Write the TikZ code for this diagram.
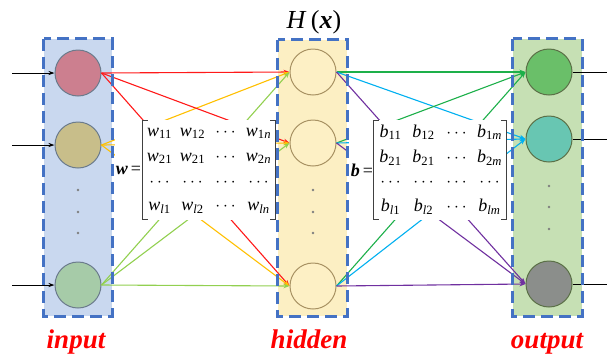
\documentclass[tikz,border=0pt]{standalone}
\usepackage{fontspec}
\setmainfont{Liberation Serif}
\usetikzlibrary{arrows.meta,matrix}

\definecolor{boxblue}{HTML}{4472C4}
\definecolor{inFill}{HTML}{C9D8EF}
\definecolor{hidFill}{HTML}{FCEFC3}
\definecolor{outFill}{HTML}{C6E0B4}
\definecolor{inA}{HTML}{CC7F8F}
\definecolor{inB}{HTML}{C8BE8A}
\definecolor{inC}{HTML}{A6CBA8}
\definecolor{inEdge}{HTML}{6B7B8C}
\definecolor{hidCirc}{HTML}{FDF0C5}
\definecolor{hidEdge}{HTML}{A89263}
\definecolor{outA}{HTML}{6ABF69}
\definecolor{outB}{HTML}{68C6B2}
\definecolor{outC}{HTML}{8B8E8B}
\definecolor{outEdge}{HTML}{5B7047}
\definecolor{lnRed}{HTML}{FF1A1A}
\definecolor{lnOrange}{HTML}{FFC000}
\definecolor{lnLime}{HTML}{92D050}
\definecolor{lnGreen}{HTML}{1DB04A}
\definecolor{lnBlue}{HTML}{00B0F0}
\definecolor{lnPurple}{HTML}{7030A0}
\definecolor{dotgray}{HTML}{7F7F7F}

\newcommand\mxent[2]{\textit{#1}\textsubscript{#2}}

\tikzset{
  layerbox/.style={line width=3pt, draw=boxblue, dash pattern=on 12pt off 6pt},
  neuron/.style={circle, minimum size=46pt, inner sep=0pt, line width=1pt},
  link/.style={line width=1.1pt, -{Stealth[length=6pt,width=4.5pt]}},
  feed/.style={line width=1pt, -{Stealth[length=6pt,width=4pt]}},
  dotmark/.style={circle, fill=dotgray, inner sep=0pt, minimum size=2.8pt},
  tag/.style={text=red, font=\fontsize{27}{29}\selectfont\bfseries\itshape, anchor=base},
  cell/.style={minimum width=33pt, minimum height=24pt, inner sep=0pt,
               font=\fontsize{18}{20}\selectfont},
  bracket/.style={line width=0.8pt, draw=black!75},
  cover/.style={fill=white, minimum width=27pt, minimum height=96pt, inner sep=0pt,
                font=\fontsize{18}{20}\selectfont}
}

\begin{document}
\begin{tikzpicture}[x=1pt,y=-1pt]
\useasboundingbox (0,0) rectangle (607,354);
\fill[white] (0,0) rectangle (607,354);

% layer backgrounds
\node[fill=inFill, minimum width=68pt, minimum height=277pt, inner sep=0pt] (inbox) at (78,177.5) {};
\node[fill=hidFill, minimum width=69pt, minimum height=276pt, inner sep=0pt] (hidbox) at (312.5,178) {};
\node[fill=outFill, minimum width=69pt, minimum height=277pt, inner sep=0pt] (outbox) at (547.5,177.5) {};

% neurons
\node[neuron, fill=inA, draw=inEdge] (i1) at (78,73) {};
\node[neuron, fill=inB, draw=inEdge] (i2) at (78,145) {};
\node[neuron, fill=inC, draw=inEdge] (i3) at (78,285) {};
\node[neuron, fill=hidCirc, draw=hidEdge] (h1) at (313,72) {};
\node[neuron, fill=hidCirc, draw=hidEdge] (h2) at (313,143) {};
\node[neuron, fill=hidCirc, draw=hidEdge] (h3) at (313,286) {};
\node[neuron, fill=outA, draw=outEdge] (o1) at (549,72) {};
\node[neuron, fill=outB, draw=outEdge] (o2) at (549,139) {};
\node[neuron, fill=outC, draw=outEdge] (o3) at (549,284) {};

% input -> hidden, coloured by source
\foreach \h in {h1,h2,h3} {
  \draw[link, lnRed] (i1.east) -- (\h.west);
  \draw[link, lnOrange] (i2.east) -- (\h.west);
  \draw[link, lnLime] (i3.east) -- (\h.west);
}
% hidden -> output, coloured by target
\foreach \h in {h1,h2,h3} {
  \draw[link, lnGreen] (\h.east) -- (o1.west);
  \draw[link, lnBlue] (\h.east) -- (o2.west);
  \draw[link, lnPurple] (\h.east) -- (o3.west);
}

% external inputs and outputs
\coordinate (s1) at (12,73);
\coordinate (s2) at (12,145);
\coordinate (s3) at (12,285);
\coordinate (t1) at (607,72);
\coordinate (t2) at (607,139);
\coordinate (t3) at (607,284);
\draw[feed] (s1) -- (i1.west);
\draw[feed] (s2) -- (i2.west);
\draw[feed] (s3) -- (i3.west);
\draw[line width=1pt] (o1.east) -- (t1);
\draw[line width=1pt] (o2.east) -- (t2);
\draw[line width=1pt] (o3.east) -- (t3);

% weight matrix
\node[cover] (weq) at (128.5,170) {\textbf{\textit{w}}\,=};
\matrix (W) [matrix of nodes, nodes={cell}, fill=white, inner sep=0pt,
             column sep=0pt, row sep=0pt] at (209,170) {
  \mxent{w}{11} & \mxent{w}{12} & $\cdots$ & \mxent{w}{1\textit{n}} \\
  \mxent{w}{21} & \mxent{w}{21} & $\cdots$ & \mxent{w}{2\textit{n}} \\
  $\cdots$ & $\cdots$ & $\cdots$ & $\cdots$ \\
  \mxent{w}{\textit{l}1} & \mxent{w}{\textit{l}2} & $\cdots$ & \mxent{w}{\textit{ln}} \\
};
\draw[bracket] ([xshift=5pt]W.north west) -- (W.north west) -- (W.south west) -- ([xshift=5pt]W.south west);
\draw[bracket] ([xshift=-5pt]W.north east) -- (W.north east) -- (W.south east) -- ([xshift=-5pt]W.south east);

% bias matrix
\node[cover] (beq) at (362,170) {\textbf{\textit{b}}\,=};
\matrix (B) [matrix of nodes, nodes={cell}, fill=white, inner sep=0pt,
             column sep=0pt, row sep=0pt] at (440,170) {
  \mxent{b}{11} & \mxent{b}{12} & $\cdots$ & \mxent{b}{1\textit{m}} \\
  \mxent{b}{21} & \mxent{b}{21} & $\cdots$ & \mxent{b}{2\textit{m}} \\
  $\cdots$ & $\cdots$ & $\cdots$ & $\cdots$ \\
  \mxent{b}{\textit{l}1} & \mxent{b}{\textit{l}2} & $\cdots$ & \mxent{b}{\textit{lm}} \\
};
\draw[bracket] ([xshift=5pt]B.north west) -- (B.north west) -- (B.south west) -- ([xshift=5pt]B.south west);
\draw[bracket] ([xshift=-5pt]B.north east) -- (B.north east) -- (B.south east) -- ([xshift=-5pt]B.south east);

% dashed layer frames
\draw[layerbox] (inbox.north west) rectangle (inbox.south east);
\draw[layerbox] (hidbox.north west) rectangle (hidbox.south east);
\draw[layerbox] (outbox.north west) rectangle (outbox.south east);

% vertical ellipses
\foreach \y [count=\k] in {190,212,233} {
  \node[dotmark] (di\k) at (78,\y) {};
  \node[dotmark] (dh\k) at (313,\y) {};
}
\foreach \y [count=\k] in {186,207,229} {
  \node[dotmark] (do\k) at (549,\y) {};
}

% titles
\node[anchor=base, font=\fontsize{26}{28}\selectfont] (htitle) at (314,28) {\textit{H}\,(\textbf{\textit{x}})};
\node[tag] (lin) at (76,348) {input};
\node[tag] (lhid) at (309,348) {hidden};
\node[tag] (lout) at (547,348) {output};
\end{tikzpicture}
\end{document}
